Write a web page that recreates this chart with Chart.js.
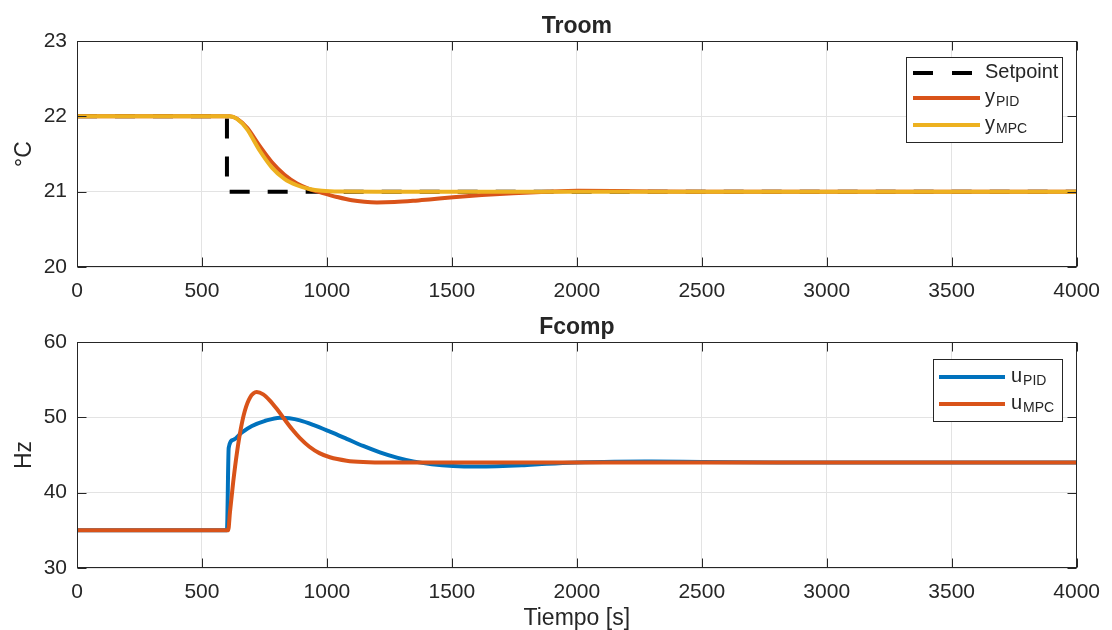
<!DOCTYPE html>
<html>
<head>
<meta charset="utf-8">
<script src="https://cdn.jsdelivr.net/npm/chart.js@4.4.1/dist/chart.umd.min.js"></script>
<style>
    html, body { margin: 0; padding: 0; background: #fff; }
    #wrap { position: relative; width: 1112px; height: 630px; }
    canvas { position: absolute; left: 0; }
</style>
</head>
<body>
<div id="wrap">
    <canvas id="troomChart" width="1112" height="315" style="top:0"></canvas>
    <canvas id="fcompChart" width="1112" height="315" style="top:315px"></canvas>
</div>
<script>
// Troom / Fcomp step response, PID vs MPC

const xTicks = [0, 500, 1000, 1500, 2000, 2500, 3000, 3500, 4000];
const troomTicks = [20, 21, 22, 23];
const fcompTicks = [30, 40, 50, 60];

// Troom (°C)
const setpointT = [0, 600, 600, 4000];
const setpointV = [22, 22, 21, 21];

const yPidT = [0, 610, 640, 680, 730, 780, 830, 880, 930, 980, 1040, 1100, 1150, 1200, 1270, 1345, 1420, 1505, 1620, 1745, 1880, 2005, 2225, 2500, 4000];
const yPidV = [22, 22, 21.97, 21.85, 21.61, 21.39, 21.225, 21.11, 21.035, 20.985, 20.93, 20.885, 20.865, 20.857, 20.862, 20.878, 20.9, 20.925, 20.955, 20.98, 21.0, 21.012, 21.006, 21.0, 21.0];

const yMpcT = [0, 610, 640, 680, 730, 780, 830, 880, 930, 980, 1050, 1200, 4000];
const yMpcV = [22, 22, 21.965, 21.83, 21.55, 21.32, 21.17, 21.085, 21.035, 21.012, 21.002, 21.0, 21.0];

// Fcomp (Hz)
const uPidT = [0, 600, 607, 625, 660, 700, 750, 812, 850, 892, 945, 1012, 1079, 1145, 1212, 1280, 1345, 1420, 1505, 1600, 1680, 1780, 1880, 2000, 2150, 2300, 2500, 2800, 3200, 4000];
const uPidV = [35, 35, 45.96, 47.0, 48.0, 48.85, 49.5, 49.96, 49.88, 49.6, 49.0, 48.1, 47.15, 46.2, 45.35, 44.65, 44.15, 43.78, 43.55, 43.48, 43.52, 43.65, 43.85, 44.02, 44.12, 44.14, 44.08, 44.02, 44.0, 44.0];

const uMpcT = [0, 605, 612, 625, 640, 655, 672, 692, 719, 745, 770, 800, 830, 860, 892, 930, 970, 1012, 1079, 1145, 1250, 4000];
const uMpcV = [35, 35, 37.4, 41.4, 45.3, 48.4, 50.9, 52.6, 53.35, 53.05, 52.3, 51.1, 49.75, 48.45, 47.25, 46.1, 45.25, 44.7, 44.25, 44.07, 44.0, 44.0];

const FONT = '"Liberation Sans", Arial, Helvetica, sans-serif';
const INK = '#262626';
const BLUE = '#0072BD';
const ORANGE = '#D95319';
const YELLOW = '#EDB120';

function pairs(t, v) {
    return t.map((x, i) => ({ x, y: v[i] }));
}

function line(ctx, x0, y0, x1, y1) {
    ctx.beginPath();
    ctx.moveTo(x0, y0);
    ctx.lineTo(x1, y1);
    ctx.stroke();
}

// box, inward ticks, title, axis labels and legend drawn MATLAB style
const matlabFrame = {
    id: 'matlabFrame',
    afterDatasetsDraw(chart, args, opts) {
        const { ctx, chartArea: a, scales: { x, y } } = chart;
        ctx.save();

        ctx.strokeStyle = INK;
        ctx.lineWidth = 1;
        const L = Math.round(a.left) + 0.5, R = Math.round(a.right) - 0.5;
        const T = Math.round(a.top) + 0.5, B = Math.round(a.bottom) - 0.5;
        ctx.strokeRect(L, T, R - L, B - T);
        x.ticks.forEach((t) => {
            const px = Math.round(x.getPixelForValue(t.value)) + 0.5;
            line(ctx, px, B, px, B - 9);
            line(ctx, px, T, px, T + 9);
        });
        y.ticks.forEach((t) => {
            const py = Math.round(y.getPixelForValue(t.value)) + 0.5;
            line(ctx, L, py, L + 9, py);
            line(ctx, R, py, R - 9, py);
        });

        ctx.fillStyle = INK;
        ctx.textAlign = 'center';
        ctx.textBaseline = 'alphabetic';
        ctx.font = 'bold 23px ' + FONT;
        ctx.fillText(opts.title, (a.left + a.right) / 2, a.top - 8);

        ctx.font = '23px ' + FONT;
        if (opts.xlabel) ctx.fillText(opts.xlabel, (a.left + a.right) / 2, opts.xlabelY);

        ctx.save();
        ctx.translate(25, (a.top + a.bottom) / 2);
        ctx.rotate(-Math.PI / 2);
        ctx.textBaseline = 'middle';
        ctx.fillText(opts.ylabel, 0, 0);
        ctx.restore();

        const lg = opts.legend;
        ctx.fillStyle = '#fff';
        ctx.fillRect(lg.x, lg.y, lg.w, lg.h);
        ctx.strokeStyle = INK;
        ctx.lineWidth = 1;
        ctx.strokeRect(lg.x + 0.5, lg.y + 0.5, lg.w, lg.h);
        lg.items.forEach((it, i) => {
            const ry = lg.rows[i];
            ctx.strokeStyle = it.color;
            ctx.lineWidth = 4;
            ctx.setLineDash(it.dash || []);
            line(ctx, lg.lineX0, ry, lg.lineX1, ry);
            ctx.setLineDash([]);
            ctx.fillStyle = INK;
            ctx.textAlign = 'left';
            ctx.textBaseline = 'alphabetic';
            ctx.font = '20px ' + FONT;
            ctx.fillText(it.main, lg.textX, ry + 5);
            if (it.sub) {
                const w = ctx.measureText(it.main).width;
                ctx.font = '14px ' + FONT;
                ctx.fillText(it.sub, lg.textX + w + 1, ry + 8);
            }
        });

        ctx.restore();
    }
};

function makeChart(id, datasets, yMin, yMax, yTicks, padTop, xAxisH, frame) {
    return new Chart(document.getElementById(id).getContext('2d'), {
        type: 'line',
        data: { datasets },
        options: {
            responsive: false,
            animation: false,
            events: [],
            layout: { padding: { top: padTop, right: 32, left: 0, bottom: 0 } },
            elements: { point: { radius: 0 }, line: { borderWidth: 4, cubicInterpolationMode: 'monotone' } },
            plugins: { legend: { display: false }, tooltip: { enabled: false }, matlabFrame: frame },
            scales: {
                x: {
                    type: 'linear', min: 0, max: 4000,
                    afterBuildTicks: (s) => { s.ticks = xTicks.map((v) => ({ value: v })); },
                    afterFit: (s) => { s.height = xAxisH; },
                    grid: { color: '#e3e3e3', drawTicks: false },
                    border: { display: false },
                    ticks: { color: INK, font: { family: FONT, size: 21 }, padding: 12, maxRotation: 0, callback: (v) => String(v) }
                },
                y: {
                    type: 'linear', min: yMin, max: yMax,
                    afterBuildTicks: (s) => { s.ticks = yTicks.map((v) => ({ value: v })); },
                    afterFit: (s) => { s.width = 77; },
                    grid: { color: '#e3e3e3', drawTicks: false },
                    border: { display: false },
                    ticks: { color: INK, font: { family: FONT, size: 21 }, padding: 10, callback: (v) => String(v) }
                }
            }
        },
        plugins: [matlabFrame]
    });
}

makeChart('troomChart', [
    { data: pairs(setpointT, setpointV), borderColor: '#000', borderDash: [20, 18], cubicInterpolationMode: 'default', tension: 0, order: 3, clip: 0 },
    { data: pairs(yPidT, yPidV), borderColor: ORANGE, order: 2, clip: 0 },
    { data: pairs(yMpcT, yMpcV), borderColor: YELLOW, order: 1, clip: 0 }
], 20, 23, troomTicks, 41, 48, {
    title: 'Troom',
    ylabel: '°C',
    legend: {
        x: 906, y: 57, w: 156, h: 85,
        rows: [73, 98, 125], lineX0: 913, lineX1: 980, textX: 985,
        items: [
            { main: 'Setpoint', color: '#000', dash: [20, 19] },
            { main: 'y', sub: 'PID', color: ORANGE },
            { main: 'y', sub: 'MPC', color: YELLOW }
        ]
    }
});

makeChart('fcompChart', [
    { data: pairs(uPidT, uPidV), borderColor: BLUE, order: 2, clip: 0 },
    { data: pairs(uMpcT, uMpcV), borderColor: ORANGE, order: 1, clip: 0 }
], 30, 60, fcompTicks, 27, 62, {
    title: 'Fcomp',
    ylabel: 'Hz',
    xlabel: 'Tiempo [s]',
    xlabelY: 310,
    legend: {
        x: 933, y: 44, w: 129, h: 62,
        rows: [62, 89], lineX0: 939, lineX1: 1005, textX: 1011,
        items: [
            { main: 'u', sub: 'PID', color: BLUE },
            { main: 'u', sub: 'MPC', color: ORANGE }
        ]
    }
});
</script>
</body>
</html>
